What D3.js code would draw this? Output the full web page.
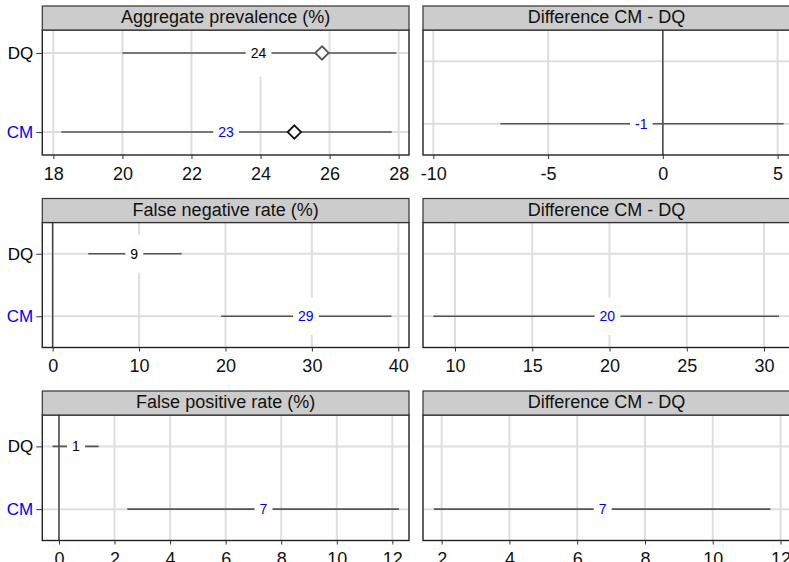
<!DOCTYPE html>
<html><head><meta charset="utf-8">
<script src="https://cdn.jsdelivr.net/npm/d3@7"></script>
<style>body{margin:0;background:#fff}svg{display:block;font-family:"Liberation Sans",Arial,sans-serif}</style>
</head><body><svg id="c" width="789" height="562"></svg>
<script>
// ---- data ----
const groups = ["DQ", "CM"];
const groupColors = ["#000000", "#0000ff"];
const measureTitles = ["Aggregate prevalence (%)", "False negative rate (%)", "False positive rate (%)"];
const diffTitle = "Difference CM - DQ";

const prevEst = [23.94, 23.0];
const prevLo = [20.0, 18.23];
const prevHi = [27.93, 27.8];
const prevMarker = [25.78, 24.98];

const fnEst = [9.44, 29.3];
const fnLo = [4.12, 19.5];
const fnHi = [14.93, 39.2];

const fpEst = [0.61, 7.36];
const fpLo = [-0.23, 2.46];
const fpHi = [1.43, 12.24];

const diffEst = [-0.94, 19.86, 6.75];
const diffLo = [-7.08, 8.6, 1.77];
const diffHi = [5.26, 30.97, 11.7];

const leftDomains = [[17.68, 28.3], [-1.2, 41.24], [-0.6, 12.6]];
const rightDomains = [[-10.45, 5.54], [7.93, 31.68], [1.45, 12.28]];
const leftTicks = [[18, 20, 22, 24, 26, 28], [0, 10, 20, 30, 40], [0, 2, 4, 6, 8, 10, 12]];
const rightTicks = [[-10, -5, 0, 5], [10, 15, 20, 25, 30], [2, 4, 6, 8, 10, 12]];

// ---- layout ----
const svg = d3.select("#c");
const cols = [[42.3, 409], [423, 790]];
const rowsLayout = [
  {top: 6, hb: 30, bottom: 155},
  {top: 198.5, hb: 222.5, bottom: 347.5},
  {top: 391, hb: 415, bottom: 540.5}
];

function panel(opts) {
  const {col, row, domain, ticks, title, data, yPad, zero, showY} = opts;
  const [x0, x1] = cols[col];
  const L = rowsLayout[row];
  const g = svg.append("g");
  const x = d3.scaleLinear().domain(domain).range([x0, x1]);
  const y = d3.scalePoint().domain(groups).range([L.hb, L.bottom]).padding(yPad);
  const step = y.step();

  // grid
  g.selectAll(".vg").data(ticks).join("line")
    .attr("x1", d => x(d)).attr("x2", d => x(d))
    .attr("y1", L.hb).attr("y2", L.bottom)
    .attr("stroke", "#dedede").attr("stroke-width", 2);
  g.selectAll(".hg").data(groups).join("line")
    .attr("x1", x0).attr("x2", x1)
    .attr("y1", d => y(d)).attr("y2", d => y(d))
    .attr("stroke", "#dedede").attr("stroke-width", 2);
  if (zero) {
    g.append("line").attr("x1", x(0)).attr("x2", x(0))
      .attr("y1", L.hb).attr("y2", L.bottom)
      .attr("stroke", "#444").attr("stroke-width", 1.5);
  }
  // CI
  g.selectAll(".ci").data(data).join("line")
    .attr("x1", d => x(d.lo)).attr("x2", d => x(d.hi))
    .attr("y1", d => y(d.g)).attr("y2", d => y(d.g))
    .attr("stroke", "#555").attr("stroke-width", 1.6);
  // markers
  const md = data.filter(d => d.marker != null);
  const r = 6.7;
  g.selectAll(".mk").data(md).join("path")
    .attr("d", d => {
      const cx = x(d.marker), cy = y(d.g);
      return `M${cx},${cy - r}L${cx + r},${cy}L${cx},${cy + r}L${cx - r},${cy}Z`;
    })
    .attr("fill", "#fff")
    .attr("stroke", d => d.g === "DQ" ? "#555" : "#111")
    .attr("stroke-width", 1.8);
  // labels with white boxes
  const lab = g.selectAll(".lab").data(data).join("g");
  lab.append("text")
    .attr("x", d => x(d.est)).attr("y", d => y(d.g)).attr("dy", "0.36em")
    .attr("text-anchor", "middle").attr("font-size", 14)
    .attr("fill", d => groupColors[groups.indexOf(d.g)])
    .text(d => String(Math.round(d.est)));
  lab.each(function() {
    const t = d3.select(this).select("text");
    const bb = t.node().getBBox();
    const h = step * 0.6;
    d3.select(this).insert("rect", "text")
      .attr("x", bb.x - 5).attr("width", bb.width + 10)
      .attr("y", bb.y + bb.height / 2 - h / 2).attr("height", h)
      .attr("fill", "#fff");
  });
  // border
  g.append("rect").attr("x", x0).attr("y", L.hb).attr("width", x1 - x0).attr("height", L.bottom - L.hb)
    .attr("fill", "none").attr("stroke", "#222").attr("stroke-width", 1.4);
  // header
  g.append("rect").attr("x", x0).attr("y", L.top).attr("width", x1 - x0).attr("height", L.hb - L.top)
    .attr("fill", "#cccccc").attr("stroke", "#333").attr("stroke-width", 1.2);
  g.append("text").attr("x", (x0 + x1) / 2).attr("y", L.hb - 7)
    .attr("text-anchor", "middle").attr("font-size", 18).attr("fill", "#111").text(title);
  // x axis
  const ax = g.append("g").attr("transform", `translate(0,${L.bottom})`)
    .call(d3.axisBottom(x).tickValues(ticks).tickSize(4).tickPadding(8).tickFormat(d => String(d)));
  ax.select(".domain").remove();
  ax.selectAll(".tick line").attr("stroke", "#333");
  ax.selectAll(".tick text").attr("font-size", 18).attr("fill", "#111")
    .attr("font-family", '"Liberation Sans",Arial,sans-serif');
  // y axis
  if (showY) {
    const ay = g.append("g").attr("transform", `translate(${x0},0)`)
      .call(d3.axisLeft(y).tickSize(6).tickPadding(3));
    ay.select(".domain").remove();
    ay.selectAll(".tick line").attr("stroke", "#333");
    ay.selectAll(".tick text").attr("font-size", 17)
      .attr("font-family", '"Liberation Sans",Arial,sans-serif')
      .attr("fill", d => groupColors[groups.indexOf(d)]);
  }
}

const leftData = [
  groups.map((gname, i) => ({g: gname, est: prevEst[i], lo: prevLo[i], hi: prevHi[i], marker: prevMarker[i]})),
  groups.map((gname, i) => ({g: gname, est: fnEst[i], lo: fnLo[i], hi: fnHi[i]})),
  groups.map((gname, i) => ({g: gname, est: fpEst[i], lo: fpLo[i], hi: fpHi[i]}))
];
const leftPad = [0.29, 0.5, 0.5];
const leftZero = [false, true, true];
const rightZero = [true, false, false];

for (let r = 0; r < 3; r++) {
  panel({col: 0, row: r, domain: leftDomains[r], ticks: leftTicks[r], title: measureTitles[r],
         data: leftData[r], yPad: leftPad[r], zero: leftZero[r], showY: true});
  panel({col: 1, row: r, domain: rightDomains[r], ticks: rightTicks[r], title: diffTitle,
         data: [{g: "CM", est: diffEst[r], lo: diffLo[r], hi: diffHi[r]}], yPad: 0.5, zero: rightZero[r], showY: false});
}
</script></body></html>
